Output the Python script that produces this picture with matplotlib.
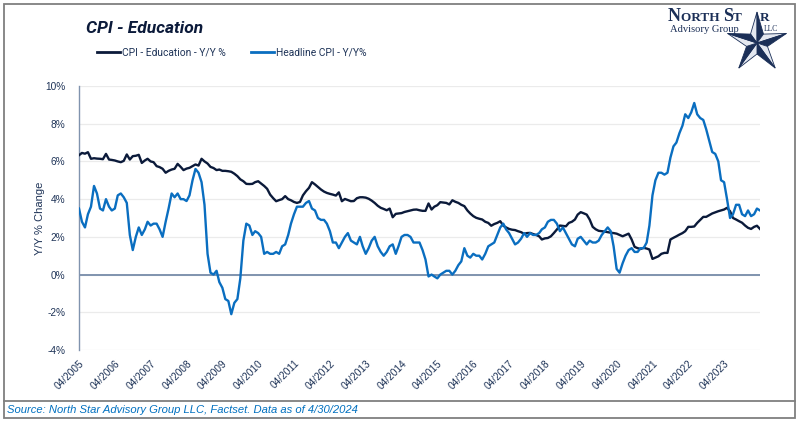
import numpy as np
import pandas as pd
import matplotlib
matplotlib.use("Agg")
import matplotlib.pyplot as plt
from matplotlib.patches import Rectangle, Polygon
from matplotlib.lines import Line2D

plt.rcParams['font.family'] = ['Liberation Sans', 'DejaVu Sans']

# -----------------------------
# Data (monthly, Apr 2005 - Apr 2024)
# -----------------------------
dates = pd.date_range('2005-04-01', '2024-04-01', freq='MS')

# CPI - Education, Y/Y %
education = [
    # 2005 Apr-Dec
    6.33, 6.45, 6.41, 6.49, 6.14, 6.17, 6.15, 6.14, 6.12,
    # 2006
    6.40, 6.10, 6.08, 6.05, 6.00, 5.96, 6.03, 6.37, 6.10, 6.28, 6.30, 6.35,
    # 2007
    5.92, 6.05, 6.14, 6.00, 5.96, 5.75, 5.70, 5.61, 5.40, 5.50, 5.57, 5.61,
    # 2008
    5.87, 5.71, 5.54, 5.62, 5.66, 5.75, 5.84, 5.78, 6.14, 6.00, 5.89, 5.71,
    # 2009
    5.65, 5.54, 5.57, 5.50, 5.50, 5.48, 5.45, 5.35, 5.22, 5.05, 4.95, 4.81,
    # 2010
    4.80, 4.81, 4.90, 4.95, 4.83, 4.70, 4.55, 4.24, 4.05, 3.89, 3.95, 4.00,
    # 2011
    4.16, 4.00, 3.94, 3.85, 3.80, 3.85, 4.20, 4.42, 4.60, 4.90, 4.78, 4.65,
    # 2012
    4.51, 4.40, 4.33, 4.28, 4.24, 4.19, 4.36, 3.89, 4.01, 3.95, 3.89, 3.90,
    # 2013
    4.05, 4.10, 4.10, 4.08, 4.02, 3.92, 3.80, 3.65, 3.54, 3.48, 3.41, 3.50,
    # 2014
    3.04, 3.22, 3.24, 3.26, 3.32, 3.36, 3.40, 3.44, 3.45, 3.41, 3.38, 3.38,
    # 2015
    3.77, 3.45, 3.60, 3.68, 3.84, 3.82, 3.80, 3.72, 3.94, 3.86, 3.80, 3.70,
    # 2016
    3.63, 3.40, 3.24, 3.10, 3.01, 2.96, 2.92, 2.80, 2.74, 2.59, 2.68, 2.74,
    # 2017
    2.83, 2.59, 2.50, 2.42, 2.38, 2.36, 2.30, 2.25, 2.16, 2.20, 2.21, 2.15,
    # 2018
    2.10, 2.03, 1.86, 1.92, 1.94, 2.03, 2.20, 2.39, 2.60, 2.58, 2.56, 2.74,
    # 2019
    2.80, 2.92, 3.18, 3.31, 3.25, 3.18, 2.92, 2.53, 2.40, 2.32, 2.30, 2.28,
    # 2020
    2.25, 2.22, 2.20, 2.17, 2.10, 2.03, 2.10, 2.17, 1.86, 1.47, 1.40, 1.36,
    # 2021
    1.42, 1.38, 1.33, 0.83, 0.90, 0.97, 1.10, 1.15, 1.15, 1.86, 1.95, 2.03,
    # 2022
    2.12, 2.20, 2.30, 2.53, 2.53, 2.55, 2.74, 2.90, 3.06, 3.06, 3.15, 3.24,
    # 2023
    3.30, 3.36, 3.40, 3.45, 3.54, 3.36, 3.00, 2.92, 2.83, 2.75, 2.60, 2.48,
    # 2024 Jan-Apr
    2.42, 2.53, 2.59, 2.42,
]

# Headline CPI, Y/Y %
headline = [
    # 2005 Apr-Dec
    3.5, 2.8, 2.5, 3.2, 3.6, 4.7, 4.3, 3.5, 3.4,
    # 2006
    4.0, 3.6, 3.4, 3.5, 4.2, 4.3, 4.1, 3.8, 2.1, 1.3, 2.0, 2.5,
    # 2007
    2.1, 2.4, 2.8, 2.6, 2.7, 2.7, 2.4, 2.0, 2.8, 3.5, 4.3, 4.1,
    # 2008
    4.3, 4.0, 4.0, 3.9, 4.2, 5.0, 5.6, 5.4, 4.9, 3.7, 1.1, 0.1,
    # 2009
    0.0, 0.2, -0.4, -0.7, -1.3, -1.4, -2.1, -1.5, -1.3, -0.2, 1.8, 2.7,
    # 2010
    2.6, 2.1, 2.3, 2.2, 2.0, 1.1, 1.2, 1.1, 1.1, 1.2, 1.1, 1.5,
    # 2011
    1.6, 2.1, 2.7, 3.2, 3.6, 3.6, 3.6, 3.8, 3.9, 3.5, 3.4, 3.0,
    # 2012
    2.9, 2.9, 2.7, 2.3, 1.7, 1.7, 1.4, 1.7, 2.0, 2.2, 1.8, 1.7,
    # 2013
    1.6, 2.0, 1.5, 1.1, 1.4, 1.8, 2.0, 1.5, 1.2, 1.0, 1.2, 1.5,
    # 2014
    1.6, 1.1, 1.5, 2.0, 2.1, 2.1, 2.0, 1.7, 1.7, 1.7, 1.3, 0.8,
    # 2015
    -0.1, 0.0, -0.1, -0.2, 0.0, 0.1, 0.2, 0.2, 0.0, 0.2, 0.5, 0.7,
    # 2016
    1.4, 1.0, 0.9, 1.1, 1.0, 1.0, 0.8, 1.1, 1.5, 1.6, 1.7, 2.1,
    # 2017
    2.5, 2.7, 2.4, 2.2, 1.9, 1.6, 1.7, 1.9, 2.2, 2.0, 2.2, 2.1,
    # 2018
    2.1, 2.2, 2.4, 2.5, 2.8, 2.9, 2.9, 2.7, 2.3, 2.5, 2.2, 1.9,
    # 2019
    1.6, 1.5, 1.9, 2.0, 1.8, 1.6, 1.8, 1.7, 1.7, 1.8, 2.1, 2.3,
    # 2020
    2.5, 2.3, 1.5, 0.3, 0.1, 0.6, 1.0, 1.3, 1.4, 1.2, 1.2, 1.4,
    # 2021
    1.4, 1.7, 2.6, 4.2, 5.0, 5.4, 5.4, 5.3, 5.4, 6.2, 6.8, 7.0,
    # 2022
    7.5, 7.9, 8.5, 8.3, 8.6, 9.1, 8.5, 8.3, 8.2, 7.7, 7.1, 6.5,
    # 2023
    6.4, 6.0, 5.0, 4.9, 4.0, 3.0, 3.2, 3.7, 3.7, 3.2, 3.1, 3.4,
    # 2024 Jan-Apr
    3.1, 3.2, 3.5, 3.4,
]

y_ticks = [-4, -2, 0, 2, 4, 6, 8, 10]
y_tick_labels = ['-4%', '-2%', '0%', '2%', '4%', '6%', '8%', '10%']
x_tick_dates = pd.date_range('2005-04-01', '2023-04-01', freq='12MS')

title = 'CPI - Education'
source = 'Source: North Star Advisory Group LLC, Factset. Data as of 4/30/2024'

# -----------------------------
# Colours
# -----------------------------
navy = '#0B1A3A'
blue = '#0A6EC0'
tick_col = '#1F3458'
axis_col = '#8093AE'
logo_col = '#1B2F57'

W, H = 800, 424
fig = plt.figure(figsize=(W / 100, H / 100), dpi=100)
fig.patch.set_facecolor('white')

ax = fig.add_axes([79 / W, 1 - 350 / H, (760 - 79) / W, (350 - 86) / H])

ax.plot(dates, education, color=navy, lw=1.7, label='CPI - Education - Y/Y %', zorder=3)
ax.plot(dates, headline, color=blue, lw=1.7, label='Headline CPI - Y/Y%', zorder=4)

ax.set_xlim(dates[0], dates[-1])
ax.set_ylim(-4, 10)
ax.set_yticks(y_ticks)
ax.set_yticklabels(y_tick_labels)
ax.grid(axis='y', color='#EBEBEB', lw=0.9, zorder=0)
ax.axhline(0, color=axis_col, lw=1.4, zorder=2)

for s in ['top', 'right', 'bottom']:
    ax.spines[s].set_visible(False)
ax.spines['left'].set_color(axis_col)
ax.spines['left'].set_linewidth(1.0)

ax.set_xticks(x_tick_dates)
ax.set_xticklabels([d.strftime('%m/%Y') for d in x_tick_dates],
                   rotation=45, ha='right', rotation_mode='anchor')
ax.tick_params(axis='x', length=0, pad=6, labelsize=7.3, labelcolor=tick_col)
ax.tick_params(axis='y', length=0, pad=10, labelsize=7.3, labelcolor=tick_col)

ax.set_ylabel('Y/Y % Change', fontsize=8, color=tick_col)
ax.yaxis.set_label_coords(-34 / (760 - 79), 0.5)

# title and legend
fig.text(86 / W, 1 - 33 / H, title, family=['Roboto', 'DejaVu Sans'],
         fontsize=12.5, fontweight='bold', fontstyle='italic', color=navy,
         va='baseline', ha='left')
handles = [Line2D([], [], color=navy, lw=2), Line2D([], [], color=blue, lw=2)]
fig.legend(handles, ['CPI - Education - Y/Y %', 'Headline CPI - Y/Y%'],
           loc='center left', bbox_to_anchor=(97 / W, 1 - 53 / H), ncol=2,
           frameon=False, prop={'family': ['Roboto', 'DejaVu Sans'], 'size': 7.4},
           handlelength=2.2, handletextpad=0.2, columnspacing=2.5, borderpad=0,
           borderaxespad=0, labelcolor=tick_col)

# frame and footer
fig.patches.append(Rectangle((4 / W, 1 - 418 / H), 791 / W, 414 / H,
                             transform=fig.transFigure, fill=False,
                             edgecolor='#7F7F7F', lw=1.3))
fig.lines.append(Line2D([4 / W, 795 / W], [1 - 401 / H, 1 - 401 / H],
                        transform=fig.transFigure, color='#7F7F7F', lw=1.3))
fig.text(7 / W, 1 - 410 / H, source, fontsize=8.1, fontstyle='italic',
         color='#0070C0', va='center', ha='left')

# logo: nautical star (each arm half dark, half light)
cx, cy, r_out, r_in = 757, 43, 31, 11
pts_out = []
pts_in = []
for k in range(5):
    a = np.deg2rad(90 - 72 * k)
    pts_out.append((cx + r_out * np.cos(a), cy - r_out * np.sin(a)))
    b = np.deg2rad(90 - 72 * k - 36)
    pts_in.append((cx + r_in * np.cos(b), cy - r_in * np.sin(b)))
for k in range(5):
    p = pts_out[k]
    for tri, col in [([p, pts_in[k - 1], (cx, cy)], '#E4E8F0'),
                     ([p, pts_in[k], (cx, cy)], logo_col)]:
        fig.patches.append(Polygon([(x / W, 1 - y / H) for x, y in tri],
                                   closed=True, transform=fig.transFigure,
                                   facecolor=col, edgecolor=logo_col, lw=0.6))

serif = ['Liberation Serif', 'DejaVu Serif']
renderer = fig.canvas.get_renderer()
x_pos = 668
for piece, size in [('N', 13), ('ORTH ', 9.5), ('S', 13), ('T', 9.5)]:
    t = fig.text(x_pos / W, 1 - 21 / H, piece, family=serif, fontsize=size,
                 fontweight='bold', color=logo_col, va='baseline', ha='left')
    x_pos = t.get_window_extent(renderer).x1
fig.text(760 / W, 1 - 21 / H, 'R', family=serif, fontsize=9.5, fontweight='bold',
         color=logo_col, va='baseline', ha='left')
fig.text(670 / W, 1 - 32 / H, 'Advisory Group', family=serif, fontsize=7.6,
         color=logo_col, va='baseline', ha='left')
fig.text(764 / W, 1 - 31 / H, 'LLC', family=serif, fontsize=5.5,
         color=logo_col, va='baseline', ha='left')

fig.savefig('out.png', dpi=100)
